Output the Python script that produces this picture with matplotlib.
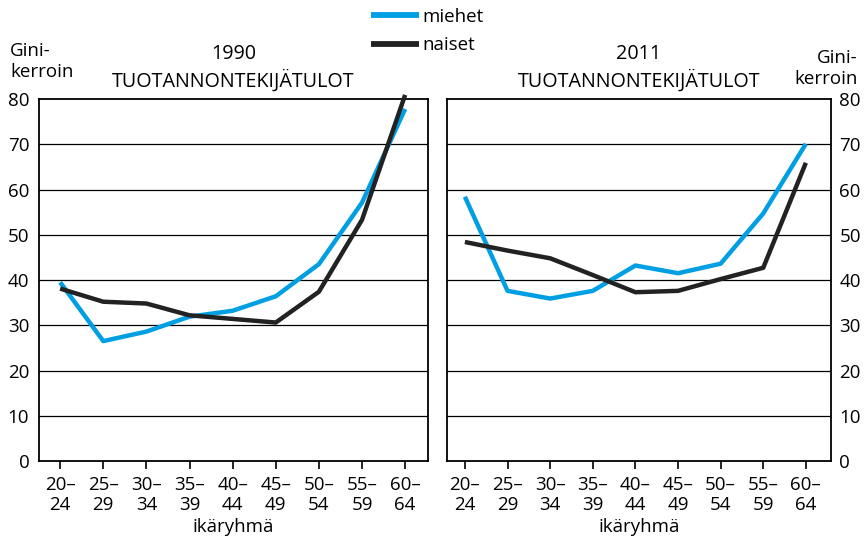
import matplotlib
matplotlib.use("Agg")
import matplotlib.pyplot as plt

plt.rcParams['font.family'] = ['Open Sans', 'DejaVu Sans']

age_groups = ["20–\n24", "25–\n29", "30–\n34", "35–\n39", "40–\n44",
              "45–\n49", "50–\n54", "55–\n59", "60–\n64"]
men_1990 = [39.5, 26.5, 28.6, 31.9, 33.2, 36.4, 43.5, 57.1, 77.8]
women_1990 = [38.1, 35.2, 34.8, 32.2, 31.4, 30.6, 37.4, 53.3, 80.9]
men_2011 = [58.4, 37.6, 35.9, 37.6, 43.2, 41.5, 43.6, 54.7, 70.1]
women_2011 = [48.4, 46.5, 44.8, 41.1, 37.3, 37.6, 40.2, 42.7, 65.9]
yticks = [0, 10, 20, 30, 40, 50, 60, 70, 80]

BLUE = "#009FE3"
BLACK = "#222222"
FS = 13.5

fig = plt.figure(figsize=(8.64, 5.37), dpi=100)
ax1 = fig.add_axes([39/864, 1-461/537, 389/864, 362/537])
ax2 = fig.add_axes([447/864, 1-461/537, 384/864, 362/537])

x = list(range(len(age_groups)))

for ax, men, women, title, side, xl in [
        (ax1, men_1990, women_1990, "1990\nTUOTANNONTEKIJÄTULOT", "left", (-0.49, 8.53)),
        (ax2, men_2011, women_2011, "2011\nTUOTANNONTEKIJÄTULOT", "right", (-0.42, 8.59))]:
    l1, = ax.plot(x, men, color=BLUE, lw=3.2, clip_on=False, zorder=3, solid_capstyle='butt')
    l2, = ax.plot(x, women, color=BLACK, lw=3.2, clip_on=False, zorder=4, solid_capstyle='butt')
    ax.set_ylim(0, 80)
    ax.set_xlim(*xl)
    ax.set_yticks(yticks)
    for v in yticks[1:-1]:
        ax.axhline(v, color="black", lw=0.9, zorder=1)
    ax.set_xticks(x)
    ax.set_xticklabels(age_groups, fontsize=FS, linespacing=1.15)
    ax.tick_params(axis='x', direction='out', length=6, width=1.2, pad=5, color="black")
    if side == "left":
        ax.tick_params(axis='y', length=0, pad=7, labelsize=FS)
    else:
        ax.yaxis.tick_right()
        ax.tick_params(axis='y', length=0, pad=6, labelsize=FS, labelright=True, labelleft=False)
    for s in ax.spines.values():
        s.set_linewidth(1.3)
    ax.set_xlabel("ikäryhmä", fontsize=FS, labelpad=2.5)
    ax.set_title(title, fontsize=14.2, linespacing=1.32, pad=9)

fig.text(10/864, 1-61.5/537, "Gini-\nkerroin", fontsize=FS, ha='left', va='center', linespacing=1.2)
fig.text(858/864, 1-68.5/537, "Gini-\nkerroin", fontsize=FS, ha='right', va='center', linespacing=1.2)

fig.legend([l1, l2], ["miehet", "naiset"], loc='center', bbox_to_anchor=(427/864, 1-31/537),
           frameon=False, fontsize=FS, handlelength=2.6, handletextpad=0.15, labelspacing=0.55,
           borderpad=0)
for h in fig.legends[0].get_lines():
    h.set_linewidth(4.2)

fig.savefig("out.png", dpi=100)
